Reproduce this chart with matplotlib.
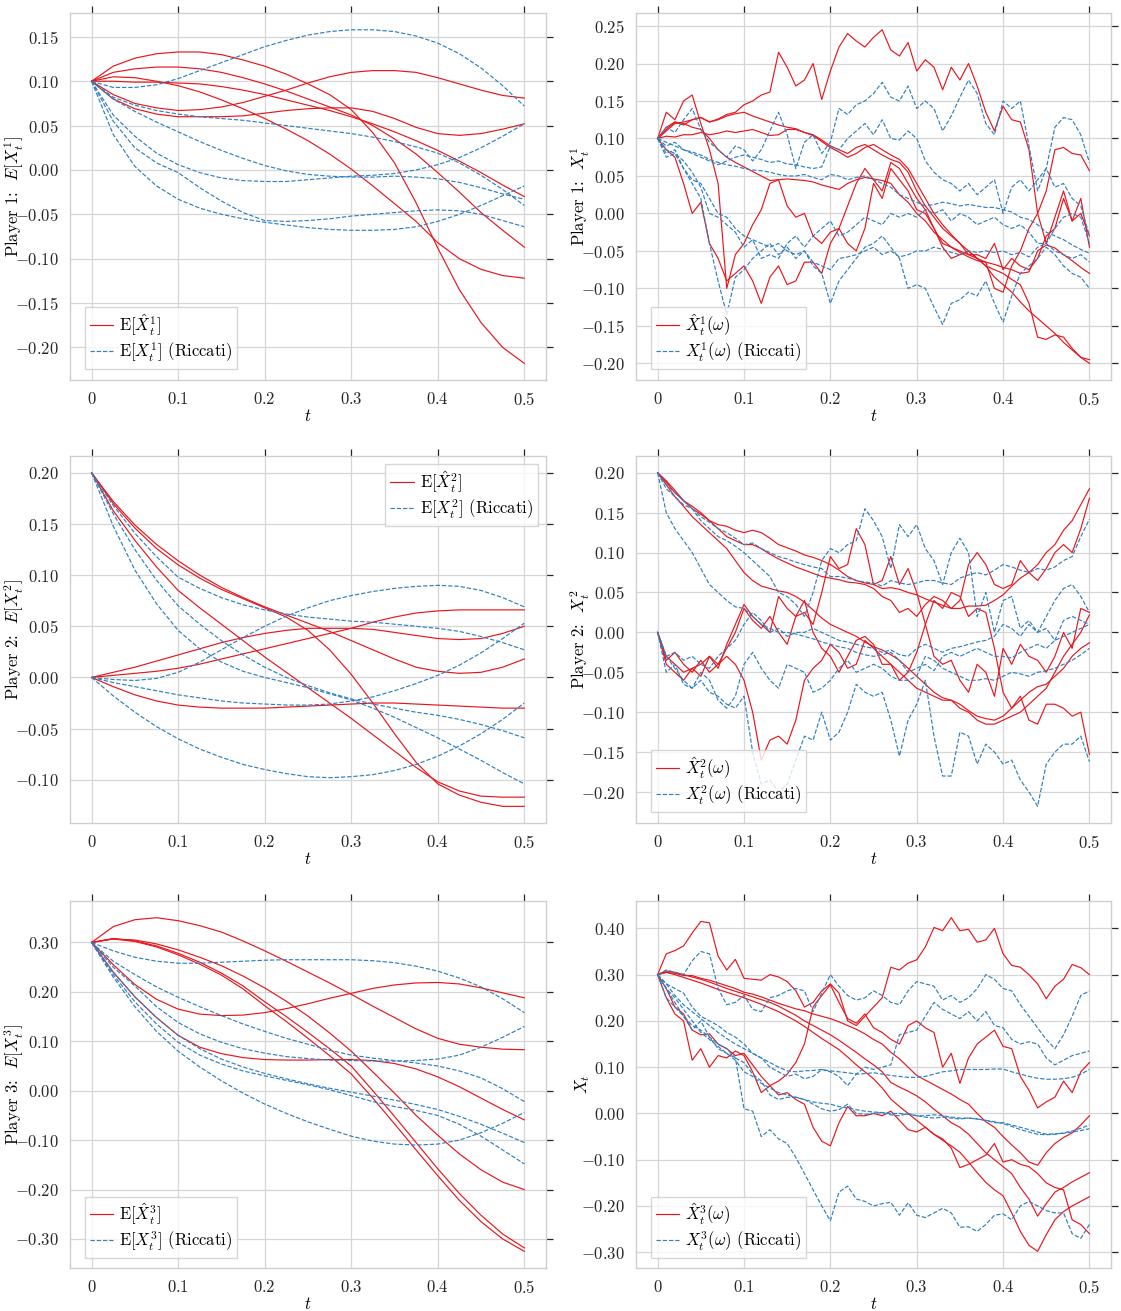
import numpy as np
import matplotlib
matplotlib.use("Agg")
import matplotlib.pyplot as plt
from matplotlib.ticker import MultipleLocator, FuncFormatter

# ---------------------------------------------------------------------------
# Time grids
# ---------------------------------------------------------------------------
t_mean = np.linspace(0.0, 0.5, 21)   # expectation curves
t_path = np.linspace(0.0, 0.5, 51)   # single sample paths

# ---------------------------------------------------------------------------
# Player 1: expectations
# ---------------------------------------------------------------------------
p1_mean_hat = [
    [0.100, 0.117, 0.126, 0.131, 0.133, 0.133, 0.130, 0.124, 0.117, 0.108, 0.097, 0.085, 0.068, 0.042, 0.008, -0.037, -0.088, -0.135, -0.172, -0.200, -0.218],
    [0.100, 0.110, 0.114, 0.116, 0.116, 0.114, 0.110, 0.104, 0.097, 0.089, 0.080, 0.071, 0.062, 0.050, 0.035, 0.018, -0.003, -0.025, -0.048, -0.068, -0.087],
    [0.100, 0.100, 0.099, 0.099, 0.098, 0.097, 0.094, 0.090, 0.085, 0.079, 0.073, 0.067, 0.060, 0.052, 0.043, 0.033, 0.022, 0.010, -0.003, -0.017, -0.030],
    [0.100, 0.105, 0.104, 0.100, 0.095, 0.088, 0.079, 0.069, 0.058, 0.046, 0.033, 0.018, 0.001, -0.018, -0.038, -0.058, -0.082, -0.100, -0.112, -0.119, -0.122],
    [0.100, 0.085, 0.075, 0.070, 0.067, 0.068, 0.071, 0.076, 0.083, 0.090, 0.098, 0.105, 0.110, 0.112, 0.112, 0.110, 0.104, 0.097, 0.090, 0.084, 0.081],
    [0.100, 0.080, 0.069, 0.063, 0.060, 0.060, 0.060, 0.061, 0.064, 0.067, 0.069, 0.070, 0.070, 0.066, 0.058, 0.048, 0.041, 0.039, 0.041, 0.046, 0.052],
]
p1_mean_ric = [
    [0.100, 0.093, 0.093, 0.096, 0.103, 0.112, 0.121, 0.130, 0.139, 0.146, 0.152, 0.156, 0.158, 0.158, 0.156, 0.151, 0.143, 0.131, 0.115, 0.095, 0.072],
    [0.100, 0.082, 0.073, 0.067, 0.063, 0.060, 0.058, 0.056, 0.053, 0.050, 0.047, 0.044, 0.041, 0.037, 0.032, 0.026, 0.019, 0.008, -0.006, -0.022, -0.040],
    [0.100, 0.080, 0.066, 0.054, 0.043, 0.032, 0.022, 0.013, 0.005, -0.001, -0.005, -0.007, -0.008, -0.008, -0.007, -0.008, -0.010, -0.014, -0.020, -0.027, -0.033],
    [0.100, 0.062, 0.038, 0.019, 0.006, -0.003, -0.009, -0.012, -0.013, -0.013, -0.011, -0.009, -0.007, -0.006, -0.004, 0.000, 0.006, 0.014, 0.025, 0.038, 0.052],
    [0.100, 0.055, 0.025, 0.008, -0.003, -0.020, -0.035, -0.048, -0.057, -0.058, -0.057, -0.055, -0.052, -0.050, -0.048, -0.046, -0.045, -0.046, -0.050, -0.057, -0.064],
    [0.100, 0.040, 0.004, -0.018, -0.033, -0.043, -0.050, -0.055, -0.059, -0.062, -0.065, -0.067, -0.068, -0.068, -0.067, -0.064, -0.058, -0.050, -0.040, -0.029, -0.018],
]

# ---------------------------------------------------------------------------
# Player 1: sample paths
# ---------------------------------------------------------------------------
p1_path_hat = [
    [0.100, 0.115, 0.122, 0.118, 0.125, 0.128, 0.122, 0.126, 0.132, 0.135, 0.145, 0.150, 0.158, 0.162, 0.215, 0.195, 0.170, 0.178, 0.200, 0.152, 0.190, 0.222, 0.240, 0.230, 0.222, 0.235, 0.245, 0.218, 0.210, 0.228, 0.190, 0.205, 0.195, 0.165, 0.195, 0.178, 0.200, 0.170, 0.135, 0.110, 0.143, 0.125, 0.122, 0.085, 0.000, -0.040, -0.005, 0.030, -0.010, 0.020, -0.045],
    [0.100, 0.135, 0.125, 0.150, 0.158, 0.120, 0.085, 0.040, -0.100, -0.055, -0.040, -0.015, 0.005, 0.040, 0.045, 0.010, -0.005, 0.000, -0.030, -0.040, -0.025, -0.020, 0.010, 0.040, 0.060, 0.045, 0.030, 0.068, 0.060, 0.040, 0.020, 0.005, -0.020, -0.045, -0.060, -0.055, -0.050, -0.060, -0.065, -0.100, -0.105, -0.070, -0.050, -0.020, 0.000, 0.030, 0.085, 0.088, 0.080, 0.078, 0.057],
    [0.100, 0.085, 0.075, 0.040, 0.000, 0.015, -0.040, -0.060, -0.090, -0.080, -0.070, -0.090, -0.120, -0.085, -0.070, -0.095, -0.090, -0.065, -0.065, -0.080, -0.040, -0.020, -0.040, -0.050, -0.020, 0.040, 0.020, 0.060, 0.045, 0.030, 0.005, 0.000, -0.020, -0.040, -0.045, -0.050, -0.055, -0.055, -0.060, -0.040, -0.075, -0.060, -0.070, -0.075, -0.060, -0.030, -0.020, 0.020, -0.010, 0.000, -0.030],
    [0.100, 0.110, 0.120, 0.122, 0.125, 0.128, 0.122, 0.125, 0.130, 0.133, 0.135, 0.130, 0.126, 0.122, 0.118, 0.115, 0.113, 0.108, 0.105, 0.098, 0.090, 0.085, 0.080, 0.088, 0.092, 0.085, 0.078, 0.072, 0.068, 0.055, 0.030, 0.010, -0.005, -0.020, -0.030, -0.040, -0.050, -0.060, -0.070, -0.085, -0.095, -0.105, -0.118, -0.130, -0.140, -0.150, -0.160, -0.172, -0.182, -0.192, -0.195],
    [0.100, 0.112, 0.122, 0.120, 0.115, 0.112, 0.100, 0.085, 0.075, 0.068, 0.062, 0.056, 0.050, 0.044, 0.045, 0.046, 0.045, 0.044, 0.042, 0.038, 0.035, 0.032, 0.040, 0.045, 0.048, 0.046, 0.044, 0.040, 0.025, 0.015, 0.000, -0.010, -0.025, -0.035, -0.045, -0.052, -0.058, -0.063, -0.065, -0.068, -0.072, -0.075, -0.080, -0.078, -0.050, -0.042, -0.046, -0.055, -0.063, -0.072, -0.080],
    [0.100, 0.103, 0.102, 0.105, 0.105, 0.108, 0.105, 0.107, 0.110, 0.108, 0.110, 0.112, 0.108, 0.104, 0.105, 0.112, 0.112, 0.108, 0.104, 0.096, 0.088, 0.082, 0.075, 0.080, 0.088, 0.092, 0.085, 0.078, 0.072, 0.060, 0.040, 0.020, 0.000, -0.015, -0.028, -0.040, -0.055, -0.060, -0.070, -0.075, -0.080, -0.088, -0.095, -0.120, -0.165, -0.168, -0.162, -0.165, -0.180, -0.192, -0.200],
]
p1_path_ric = [
    [0.100, 0.115, 0.108, 0.125, 0.140, 0.112, 0.095, 0.085, 0.075, 0.090, 0.085, 0.070, 0.085, 0.110, 0.135, 0.105, 0.060, 0.095, 0.105, 0.080, 0.095, 0.140, 0.132, 0.145, 0.150, 0.160, 0.175, 0.155, 0.150, 0.170, 0.140, 0.150, 0.140, 0.110, 0.130, 0.155, 0.178, 0.160, 0.120, 0.105, 0.150, 0.140, 0.150, 0.090, 0.030, 0.060, 0.115, 0.128, 0.125, 0.105, 0.068],
    [0.100, 0.090, 0.095, 0.085, 0.080, 0.075, 0.070, 0.065, 0.070, 0.075, 0.078, 0.075, 0.072, 0.068, 0.070, 0.066, 0.065, 0.062, 0.060, 0.062, 0.090, 0.085, 0.100, 0.110, 0.120, 0.105, 0.125, 0.100, 0.098, 0.110, 0.100, 0.070, 0.055, 0.045, 0.040, 0.030, 0.040, 0.025, 0.035, 0.045, 0.000, 0.035, 0.045, 0.030, 0.045, 0.060, 0.035, 0.040, 0.020, 0.010, -0.030],
    [0.100, 0.095, 0.090, 0.085, 0.082, 0.078, 0.072, 0.068, 0.065, 0.063, 0.060, 0.058, 0.057, 0.055, 0.052, 0.050, 0.050, 0.052, 0.048, 0.045, 0.052, 0.050, 0.045, 0.048, 0.050, 0.045, 0.040, 0.035, 0.025, 0.020, 0.015, 0.010, 0.012, 0.015, 0.013, 0.010, 0.012, 0.010, 0.008, 0.008, 0.005, 0.002, -0.005, -0.008, -0.015, -0.025, -0.030, -0.035, -0.042, -0.048, -0.053],
    [0.100, 0.085, 0.080, 0.060, 0.040, 0.020, -0.040, -0.090, -0.135, -0.085, -0.075, -0.060, -0.050, -0.040, -0.055, -0.045, -0.060, -0.050, -0.070, -0.080, -0.120, -0.090, -0.075, -0.060, -0.045, -0.040, -0.030, -0.045, -0.060, -0.100, -0.095, -0.100, -0.125, -0.148, -0.120, -0.115, -0.105, -0.110, -0.090, -0.120, -0.145, -0.110, -0.080, -0.070, -0.060, -0.045, -0.055, -0.070, -0.080, -0.085, -0.100],
    [0.100, 0.080, 0.085, 0.060, 0.045, 0.040, 0.020, 0.000, -0.005, -0.020, -0.030, -0.035, -0.040, -0.045, -0.040, -0.050, -0.055, -0.050, -0.065, -0.070, -0.075, -0.060, -0.058, -0.055, -0.050, -0.045, -0.055, -0.050, -0.058, -0.055, -0.050, -0.050, -0.045, -0.048, -0.052, -0.055, -0.050, -0.052, -0.050, -0.052, -0.050, -0.055, -0.052, -0.058, -0.045, -0.040, -0.050, -0.055, -0.060, -0.055, -0.065],
    [0.100, 0.075, 0.080, 0.070, 0.055, 0.035, 0.000, -0.005, -0.015, -0.025, -0.045, -0.035, -0.060, -0.055, -0.060, -0.040, -0.030, -0.045, -0.030, -0.020, -0.010, -0.030, -0.025, -0.015, -0.005, -0.010, -0.015, 0.000, -0.005, 0.000, -0.005, 0.005, 0.000, 0.005, -0.010, 0.000, -0.005, -0.015, -0.010, -0.005, -0.015, -0.020, -0.015, -0.025, -0.040, -0.040, -0.020, -0.005, 0.000, -0.005, -0.040],
]

# ---------------------------------------------------------------------------
# Player 2: expectations
# ---------------------------------------------------------------------------
p2_mean_hat = [
    [0.200, 0.172, 0.149, 0.130, 0.114, 0.100, 0.088, 0.078, 0.069, 0.061, 0.053, 0.045, 0.036, 0.027, 0.018, 0.010, 0.006, 0.004, 0.005, 0.010, 0.018],
    [0.200, 0.170, 0.146, 0.126, 0.110, 0.097, 0.086, 0.077, 0.068, 0.059, 0.046, 0.027, 0.003, -0.025, -0.055, -0.083, -0.104, -0.115, -0.122, -0.126, -0.126],
    [0.200, 0.163, 0.134, 0.108, 0.085, 0.068, 0.052, 0.036, 0.020, 0.005, -0.010, -0.025, -0.040, -0.056, -0.072, -0.088, -0.102, -0.111, -0.116, -0.117, -0.117],
    [0.000, 0.005, 0.010, 0.016, 0.022, 0.028, 0.034, 0.039, 0.043, 0.046, 0.048, 0.048, 0.048, 0.047, 0.044, 0.041, 0.038, 0.037, 0.038, 0.043, 0.050],
    [0.000, 0.002, 0.004, 0.006, 0.009, 0.013, 0.018, 0.023, 0.028, 0.033, 0.038, 0.043, 0.048, 0.054, 0.059, 0.063, 0.065, 0.066, 0.066, 0.066, 0.066],
    [0.000, -0.009, -0.017, -0.023, -0.027, -0.029, -0.030, -0.030, -0.030, -0.029, -0.028, -0.027, -0.026, -0.025, -0.025, -0.026, -0.027, -0.028, -0.029, -0.030, -0.030],
]
p2_mean_ric = [
    [0.200, 0.168, 0.141, 0.118, 0.098, 0.087, 0.078, 0.071, 0.066, 0.062, 0.059, 0.057, 0.055, 0.054, 0.052, 0.050, 0.048, 0.045, 0.040, 0.034, 0.027],
    [0.200, 0.160, 0.125, 0.095, 0.070, 0.052, 0.036, 0.022, 0.010, 0.000, -0.008, -0.015, -0.021, -0.026, -0.030, -0.034, -0.037, -0.041, -0.046, -0.052, -0.059],
    [0.200, 0.148, 0.105, 0.072, 0.046, 0.028, 0.015, 0.006, 0.000, -0.005, -0.010, -0.016, -0.022, -0.030, -0.039, -0.049, -0.059, -0.070, -0.081, -0.093, -0.104],
    [0.000, -0.002, -0.003, -0.001, 0.005, 0.015, 0.027, 0.039, 0.050, 0.060, 0.068, 0.075, 0.080, 0.084, 0.087, 0.089, 0.090, 0.089, 0.085, 0.078, 0.069],
    [0.000, -0.005, -0.009, -0.013, -0.017, -0.020, -0.023, -0.025, -0.026, -0.027, -0.027, -0.026, -0.023, -0.019, -0.013, -0.006, 0.002, 0.012, 0.024, 0.038, 0.053],
    [0.000, -0.018, -0.034, -0.048, -0.060, -0.070, -0.078, -0.085, -0.090, -0.094, -0.097, -0.098, -0.097, -0.095, -0.091, -0.085, -0.077, -0.067, -0.055, -0.041, -0.025],
]

# ---------------------------------------------------------------------------
# Player 2: sample paths
# ---------------------------------------------------------------------------
p2_path_hat = [
    [0.200, 0.188, 0.175, 0.165, 0.155, 0.148, 0.140, 0.135, 0.133, 0.128, 0.125, 0.128, 0.125, 0.118, 0.110, 0.106, 0.102, 0.097, 0.094, 0.090, 0.085, 0.078, 0.070, 0.065, 0.062, 0.060, 0.055, 0.056, 0.054, 0.050, 0.047, 0.042, 0.038, 0.034, 0.030, 0.030, 0.033, 0.033, 0.034, 0.040, 0.047, 0.058, 0.068, 0.075, 0.085, 0.100, 0.110, 0.128, 0.140, 0.160, 0.180],
    [0.200, 0.190, 0.178, 0.165, 0.158, 0.150, 0.140, 0.130, 0.120, 0.115, 0.110, 0.110, 0.105, 0.098, 0.092, 0.087, 0.082, 0.078, 0.074, 0.070, 0.068, 0.066, 0.063, 0.062, 0.060, 0.055, 0.045, 0.040, 0.025, 0.030, 0.020, 0.035, 0.045, 0.040, 0.030, 0.040, 0.085, 0.100, 0.085, 0.060, 0.055, 0.060, 0.090, 0.075, 0.065, 0.080, 0.100, 0.110, 0.100, 0.130, 0.168],
    [0.200, 0.185, 0.170, 0.158, 0.145, 0.135, 0.125, 0.115, 0.105, 0.090, 0.075, 0.065, 0.058, 0.055, 0.052, 0.050, 0.045, 0.038, 0.028, 0.018, 0.010, 0.005, 0.000, -0.005, -0.012, -0.018, -0.022, -0.028, -0.035, -0.045, -0.055, -0.065, -0.075, -0.082, -0.085, -0.090, -0.098, -0.105, -0.108, -0.110, -0.105, -0.095, -0.085, -0.075, -0.068, -0.065, -0.055, -0.045, -0.030, -0.020, -0.013],
    [0.000, -0.030, -0.040, -0.050, -0.045, -0.040, -0.030, -0.040, -0.030, -0.040, -0.060, -0.100, -0.160, -0.135, -0.130, -0.140, -0.110, -0.060, -0.045, -0.035, -0.015, -0.025, -0.045, -0.040, -0.010, -0.020, -0.030, -0.040, -0.050, -0.060, -0.070, -0.075, -0.080, -0.085, -0.085, -0.095, -0.100, -0.110, -0.115, -0.115, -0.110, -0.105, -0.100, -0.090, -0.080, -0.070, -0.050, -0.030, -0.015, 0.000, 0.022],
    [0.000, -0.040, -0.050, -0.060, -0.045, -0.055, -0.030, -0.045, -0.015, 0.010, 0.035, 0.020, 0.010, 0.000, 0.045, 0.030, 0.020, 0.025, 0.010, 0.050, 0.095, 0.080, 0.085, 0.130, 0.110, 0.060, 0.065, 0.095, 0.060, 0.080, 0.050, 0.010, -0.030, -0.040, -0.035, -0.060, -0.075, -0.040, -0.050, -0.080, -0.020, -0.040, -0.015, -0.030, -0.035, -0.050, -0.030, 0.000, -0.020, 0.030, 0.025],
    [0.000, -0.035, -0.025, -0.040, -0.050, -0.035, -0.050, -0.040, -0.020, 0.000, 0.030, 0.015, 0.005, 0.020, 0.000, -0.015, 0.020, 0.040, 0.000, -0.020, -0.030, -0.050, -0.030, -0.010, -0.005, -0.015, -0.040, -0.040, -0.060, -0.050, -0.025, 0.010, 0.040, 0.030, 0.050, 0.045, 0.020, 0.030, 0.025, -0.020, -0.075, -0.095, -0.080, -0.110, -0.115, -0.090, -0.090, -0.095, -0.105, -0.100, -0.153],
]
p2_path_ric = [
    [0.200, 0.185, 0.175, 0.165, 0.155, 0.145, 0.138, 0.130, 0.125, 0.118, 0.110, 0.112, 0.105, 0.100, 0.095, 0.092, 0.088, 0.085, 0.082, 0.080, 0.070, 0.070, 0.068, 0.065, 0.063, 0.062, 0.058, 0.065, 0.062, 0.060, 0.062, 0.065, 0.065, 0.062, 0.060, 0.068, 0.072, 0.075, 0.072, 0.078, 0.085, 0.082, 0.078, 0.075, 0.080, 0.078, 0.082, 0.090, 0.095, 0.120, 0.142],
    [0.200, 0.150, 0.130, 0.115, 0.100, 0.080, 0.060, 0.050, 0.040, 0.032, 0.030, 0.020, 0.010, 0.005, 0.000, 0.000, -0.002, -0.005, -0.008, -0.012, -0.015, -0.018, -0.020, -0.025, -0.028, -0.030, -0.028, -0.025, -0.035, -0.050, -0.045, -0.040, -0.048, -0.030, -0.025, -0.030, -0.025, -0.020, -0.025, -0.030, -0.030, -0.032, -0.025, -0.020, -0.015, -0.020, -0.010, -0.005, 0.000, 0.005, 0.010],
    [0.200, 0.180, 0.170, 0.160, 0.155, 0.140, 0.130, 0.120, 0.115, 0.108, 0.100, 0.090, 0.080, 0.070, 0.050, 0.045, 0.035, 0.020, 0.050, 0.090, 0.105, 0.100, 0.110, 0.115, 0.155, 0.140, 0.120, 0.080, 0.135, 0.120, 0.135, 0.105, 0.090, 0.060, 0.100, 0.118, 0.100, 0.020, 0.050, 0.000, 0.040, 0.045, 0.005, 0.015, 0.000, 0.020, 0.040, 0.055, 0.060, 0.045, 0.025],
    [0.000, -0.030, -0.045, -0.060, -0.070, -0.060, -0.075, -0.080, -0.090, -0.095, -0.080, -0.150, -0.190, -0.185, -0.200, -0.190, -0.160, -0.130, -0.135, -0.100, -0.135, -0.125, -0.100, -0.065, -0.075, -0.080, -0.075, -0.110, -0.155, -0.110, -0.090, -0.060, -0.130, -0.180, -0.180, -0.125, -0.130, -0.165, -0.140, -0.150, -0.165, -0.160, -0.185, -0.200, -0.218, -0.165, -0.150, -0.140, -0.140, -0.130, -0.162],
    [0.000, -0.050, -0.040, -0.065, -0.070, -0.050, -0.060, -0.085, -0.095, -0.080, -0.040, -0.025, -0.045, -0.060, -0.070, -0.040, -0.045, -0.050, -0.075, -0.070, -0.060, -0.045, -0.035, -0.050, -0.045, -0.040, -0.045, -0.055, -0.060, -0.060, -0.055, -0.030, -0.035, -0.045, -0.050, -0.055, -0.060, -0.060, -0.058, -0.060, -0.055, -0.050, -0.052, -0.055, -0.050, -0.048, -0.045, -0.040, -0.035, -0.028, -0.020],
    [0.000, -0.030, -0.025, -0.035, -0.030, -0.040, -0.045, -0.030, -0.020, -0.010, 0.010, 0.025, 0.015, 0.000, 0.005, -0.005, 0.000, 0.000, 0.005, 0.000, -0.005, -0.010, -0.012, -0.015, -0.018, -0.020, -0.025, -0.022, -0.028, -0.030, -0.020, -0.015, -0.020, -0.025, -0.020, -0.018, -0.015, -0.012, -0.010, -0.005, 0.010, 0.005, -0.005, 0.010, 0.000, 0.005, -0.010, 0.015, 0.020, 0.015, 0.010],
]

# ---------------------------------------------------------------------------
# Player 3: expectations
# ---------------------------------------------------------------------------
p3_mean_hat = [
    [0.300, 0.332, 0.346, 0.350, 0.344, 0.334, 0.321, 0.303, 0.283, 0.262, 0.240, 0.218, 0.195, 0.171, 0.148, 0.125, 0.106, 0.094, 0.088, 0.084, 0.083],
    [0.300, 0.255, 0.215, 0.185, 0.165, 0.155, 0.152, 0.153, 0.158, 0.166, 0.176, 0.187, 0.197, 0.207, 0.214, 0.218, 0.219, 0.216, 0.208, 0.198, 0.188],
    [0.300, 0.240, 0.190, 0.148, 0.112, 0.088, 0.075, 0.067, 0.063, 0.062, 0.062, 0.063, 0.063, 0.061, 0.055, 0.044, 0.028, 0.008, -0.015, -0.038, -0.059],
    [0.300, 0.307, 0.305, 0.297, 0.285, 0.270, 0.253, 0.232, 0.208, 0.181, 0.151, 0.117, 0.080, 0.038, -0.005, -0.050, -0.090, -0.128, -0.160, -0.185, -0.200],
    [0.300, 0.308, 0.303, 0.293, 0.278, 0.260, 0.238, 0.212, 0.180, 0.150, 0.118, 0.085, 0.050, 0.000, -0.052, -0.105, -0.158, -0.208, -0.252, -0.290, -0.318],
    [0.300, 0.307, 0.302, 0.291, 0.275, 0.256, 0.234, 0.206, 0.172, 0.140, 0.106, 0.071, 0.034, -0.015, -0.067, -0.120, -0.172, -0.222, -0.265, -0.300, -0.325],
]
p3_mean_ric = [
    [0.300, 0.283, 0.270, 0.262, 0.258, 0.258, 0.260, 0.262, 0.264, 0.265, 0.265, 0.265, 0.265, 0.263, 0.259, 0.252, 0.242, 0.228, 0.210, 0.186, 0.158],
    [0.300, 0.262, 0.235, 0.210, 0.189, 0.170, 0.152, 0.135, 0.120, 0.106, 0.094, 0.082, 0.072, 0.066, 0.061, 0.056, 0.050, 0.040, 0.026, 0.004, -0.022],
    [0.300, 0.250, 0.212, 0.170, 0.138, 0.115, 0.098, 0.085, 0.076, 0.069, 0.065, 0.062, 0.061, 0.060, 0.060, 0.061, 0.064, 0.072, 0.088, 0.108, 0.130],
    [0.300, 0.240, 0.190, 0.148, 0.112, 0.085, 0.064, 0.048, 0.035, 0.024, 0.014, 0.005, -0.003, -0.011, -0.019, -0.028, -0.038, -0.052, -0.068, -0.086, -0.105],
    [0.300, 0.235, 0.180, 0.135, 0.098, 0.072, 0.054, 0.040, 0.030, 0.021, 0.012, 0.002, -0.010, -0.022, -0.032, -0.040, -0.050, -0.068, -0.092, -0.120, -0.148],
    [0.300, 0.230, 0.170, 0.120, 0.080, 0.048, 0.020, -0.005, -0.027, -0.046, -0.063, -0.078, -0.092, -0.102, -0.108, -0.110, -0.108, -0.100, -0.085, -0.066, -0.044],
]

# ---------------------------------------------------------------------------
# Player 3: sample paths
# ---------------------------------------------------------------------------
p3_path_hat = [
    [0.300, 0.345, 0.352, 0.362, 0.390, 0.415, 0.412, 0.340, 0.310, 0.333, 0.292, 0.290, 0.288, 0.300, 0.295, 0.285, 0.265, 0.230, 0.240, 0.265, 0.280, 0.260, 0.200, 0.190, 0.210, 0.230, 0.250, 0.316, 0.310, 0.325, 0.332, 0.360, 0.402, 0.395, 0.423, 0.395, 0.398, 0.370, 0.375, 0.400, 0.345, 0.320, 0.316, 0.300, 0.280, 0.248, 0.275, 0.290, 0.322, 0.315, 0.300],
    [0.300, 0.250, 0.215, 0.200, 0.115, 0.140, 0.100, 0.125, 0.120, 0.135, 0.125, 0.090, 0.045, 0.060, 0.070, 0.085, 0.110, 0.150, 0.230, 0.255, 0.278, 0.240, 0.205, 0.195, 0.215, 0.185, 0.175, 0.160, 0.150, 0.190, 0.200, 0.185, 0.175, 0.100, 0.130, 0.065, 0.120, 0.150, 0.165, 0.180, 0.145, 0.140, 0.080, 0.050, 0.012, 0.025, 0.035, 0.070, 0.045, 0.090, 0.110],
    [0.300, 0.305, 0.303, 0.298, 0.298, 0.292, 0.288, 0.282, 0.276, 0.270, 0.262, 0.258, 0.252, 0.245, 0.238, 0.232, 0.226, 0.222, 0.215, 0.210, 0.205, 0.198, 0.190, 0.182, 0.172, 0.160, 0.150, 0.132, 0.118, 0.100, 0.082, 0.072, 0.062, 0.052, 0.042, 0.030, 0.020, 0.000, -0.018, -0.030, -0.050, -0.068, -0.085, -0.105, -0.112, -0.085, -0.065, -0.052, -0.042, -0.025, -0.005],
    [0.300, 0.308, 0.305, 0.300, 0.295, 0.290, 0.284, 0.277, 0.270, 0.264, 0.258, 0.252, 0.246, 0.240, 0.232, 0.222, 0.212, 0.200, 0.190, 0.180, 0.170, 0.158, 0.145, 0.132, 0.118, 0.105, 0.090, 0.067, 0.057, 0.048, 0.038, 0.025, 0.009, -0.005, -0.020, -0.030, -0.045, -0.065, -0.085, -0.100, -0.115, -0.130, -0.160, -0.185, -0.222, -0.195, -0.170, -0.160, -0.148, -0.138, -0.128],
    [0.300, 0.305, 0.300, 0.294, 0.288, 0.282, 0.275, 0.268, 0.262, 0.256, 0.250, 0.243, 0.236, 0.228, 0.220, 0.210, 0.200, 0.188, 0.175, 0.162, 0.150, 0.138, 0.122, 0.105, 0.090, 0.075, 0.055, 0.031, 0.015, 0.000, -0.015, -0.030, -0.045, -0.058, -0.070, -0.084, -0.105, -0.128, -0.149, -0.165, -0.178, -0.215, -0.255, -0.285, -0.298, -0.262, -0.230, -0.212, -0.200, -0.190, -0.180],
    [0.300, 0.270, 0.230, 0.215, 0.180, 0.170, 0.172, 0.150, 0.140, 0.125, 0.130, 0.105, 0.080, 0.060, 0.040, 0.045, 0.030, 0.020, -0.030, -0.060, -0.070, -0.020, 0.015, -0.005, -0.005, 0.000, -0.005, 0.005, -0.015, -0.035, -0.040, -0.030, -0.045, -0.055, -0.075, -0.117, -0.110, -0.100, -0.090, -0.065, -0.105, -0.100, -0.110, -0.115, -0.130, -0.150, -0.160, -0.165, -0.230, -0.240, -0.260],
]
p3_path_ric = [
    [0.300, 0.310, 0.305, 0.300, 0.330, 0.350, 0.345, 0.270, 0.235, 0.240, 0.255, 0.225, 0.220, 0.250, 0.255, 0.265, 0.270, 0.265, 0.220, 0.260, 0.300, 0.275, 0.255, 0.245, 0.250, 0.265, 0.255, 0.240, 0.235, 0.265, 0.285, 0.280, 0.275, 0.245, 0.255, 0.240, 0.250, 0.270, 0.300, 0.290, 0.270, 0.265, 0.235, 0.210, 0.185, 0.160, 0.140, 0.170, 0.210, 0.255, 0.265],
    [0.300, 0.280, 0.270, 0.260, 0.230, 0.210, 0.200, 0.190, 0.175, 0.165, 0.150, 0.130, 0.120, 0.100, 0.090, 0.080, 0.085, 0.075, 0.080, 0.095, 0.090, 0.080, 0.060, 0.085, 0.100, 0.095, 0.100, 0.105, 0.170, 0.175, 0.180, 0.210, 0.240, 0.225, 0.215, 0.205, 0.220, 0.200, 0.220, 0.190, 0.185, 0.160, 0.150, 0.155, 0.150, 0.120, 0.105, 0.115, 0.125, 0.130, 0.135],
    [0.300, 0.280, 0.255, 0.235, 0.220, 0.205, 0.190, 0.175, 0.162, 0.150, 0.140, 0.130, 0.120, 0.110, 0.100, 0.092, 0.090, 0.092, 0.093, 0.095, 0.092, 0.090, 0.088, 0.085, 0.086, 0.088, 0.085, 0.082, 0.080, 0.078, 0.078, 0.080, 0.085, 0.090, 0.092, 0.095, 0.095, 0.095, 0.095, 0.096, 0.096, 0.090, 0.085, 0.080, 0.076, 0.074, 0.074, 0.075, 0.078, 0.085, 0.095],
    [0.300, 0.270, 0.250, 0.225, 0.200, 0.175, 0.160, 0.145, 0.130, 0.115, 0.090, 0.080, 0.065, 0.055, 0.045, 0.040, 0.035, 0.030, 0.025, 0.022, 0.020, 0.015, 0.012, 0.008, 0.005, 0.003, 0.002, 0.000, 0.000, -0.002, -0.005, -0.008, -0.010, -0.008, -0.010, -0.012, -0.010, -0.012, -0.015, -0.018, -0.022, -0.028, -0.035, -0.040, -0.045, -0.046, -0.045, -0.042, -0.038, -0.032, -0.025],
    [0.300, 0.250, 0.230, 0.210, 0.180, 0.200, 0.165, 0.140, 0.130, 0.120, 0.110, 0.085, 0.070, 0.040, 0.030, 0.035, 0.035, 0.030, 0.020, 0.010, 0.005, 0.008, 0.020, 0.000, -0.002, 0.000, 0.002, -0.003, -0.005, 0.000, -0.005, -0.005, -0.003, -0.005, -0.008, -0.010, -0.010, -0.012, -0.015, -0.020, -0.020, -0.025, -0.030, -0.035, -0.040, -0.045, -0.044, -0.043, -0.040, -0.037, -0.033],
    [0.300, 0.270, 0.240, 0.210, 0.190, 0.180, 0.165, 0.150, 0.140, 0.120, 0.010, 0.005, -0.050, -0.035, -0.055, -0.065, -0.095, -0.130, -0.165, -0.200, -0.232, -0.170, -0.157, -0.185, -0.190, -0.200, -0.195, -0.192, -0.220, -0.193, -0.220, -0.225, -0.215, -0.205, -0.215, -0.246, -0.245, -0.255, -0.240, -0.220, -0.217, -0.230, -0.200, -0.190, -0.200, -0.210, -0.215, -0.215, -0.260, -0.270, -0.240],
]

# ---------------------------------------------------------------------------
# Style
# ---------------------------------------------------------------------------
RED = "#e8161c"
BLUE = "#2f7fc1"

plt.rcParams.update({
    "font.family": "serif",
    "font.serif": ["cmr10"],
    "mathtext.fontset": "cm",
    "axes.unicode_minus": False,
    "axes.formatter.use_mathtext": True,
    "font.size": 12,
    "axes.edgecolor": "#cfcfcf",
    "axes.linewidth": 1.0,
    "axes.grid": True,
    "grid.color": "#d6d6d6",
    "grid.linewidth": 0.9,
    "xtick.top": True, "xtick.bottom": False,
    "ytick.right": True, "ytick.left": False,
    "xtick.direction": "out", "ytick.direction": "out",
    "xtick.major.size": 5, "ytick.major.size": 5,
    "xtick.major.width": 0.9, "ytick.major.width": 0.9,
    "xtick.major.pad": 3.0, "ytick.major.pad": 3.0,
    "xtick.color": "#262626", "ytick.color": "#262626",
    "legend.fancybox": False,
    "legend.edgecolor": "#cccccc",
    "legend.framealpha": 0.8,
    "legend.fontsize": 12,
    "legend.handlelength": 1.4,
    "legend.handletextpad": 0.35,
    "legend.borderpad": 0.3,
    "legend.labelspacing": 0.15,
})


def fmt_t(v, _):
    return "$0$" if abs(v) < 1e-9 else f"${v:.1f}$"


def fmt_y(v, _):
    if abs(v) < 1e-9:
        v = 0.0
    return f"${v:.2f}$"


panels = [
    # row, col, t, hat, ric, hat label, ric label, y label, y step, legend loc, anchor
    (0, 0, t_mean, p1_mean_hat, p1_mean_ric, r"E$[\hat{X}^1_t]$", r"E$[X^1_t]$ (Riccati)",
     r"Player 1:  $E[X^1_t]$", 0.05, "lower left", (0.031, 0.03)),
    (0, 1, t_path, p1_path_hat, p1_path_ric, r"$\hat{X}^1_t(\omega)$", r"$X^1_t(\omega)$ (Riccati)",
     r"Player 1:  $X^1_t$", 0.05, "lower left", (0.031, 0.03)),
    (1, 0, t_mean, p2_mean_hat, p2_mean_ric, r"E$[\hat{X}^2_t]$", r"E$[X^2_t]$ (Riccati)",
     r"Player 2:  $E[X^2_t]$", 0.05, "upper right", (0.983, 0.978)),
    (1, 1, t_path, p2_path_hat, p2_path_ric, r"$\hat{X}^2_t(\omega)$", r"$X^2_t(\omega)$ (Riccati)",
     r"Player 2:  $X^2_t$", 0.05, "lower left", (0.031, 0.03)),
    (2, 0, t_mean, p3_mean_hat, p3_mean_ric, r"E$[\hat{X}^3_t]$", r"E$[X^3_t]$ (Riccati)",
     r"Player 3:  $E[X^3_t]$", 0.10, "lower left", (0.031, 0.027)),
    (2, 1, t_path, p3_path_hat, p3_path_ric, r"$\hat{X}^3_t(\omega)$", r"$X^3_t(\omega)$ (Riccati)",
     r"$X_t$", 0.10, "lower left", (0.031, 0.027)),
]

col_x = [0.0624, 0.5674]
col_w = [0.4246, 0.4237]
row_y = [0.7101, 0.3722, 0.0328]
row_h = 0.2799

fig = plt.figure(figsize=(11.21, 13.11), dpi=100)

for row, col, t, hat, ric, lab_hat, lab_ric, ylab, ystep, loc, anchor in panels:
    ax = fig.add_axes([col_x[col], row_y[row], col_w[col], row_h])
    for k, y in enumerate(hat):
        ax.plot(t, y, color=RED, lw=0.85, label=lab_hat if k == 0 else None)
    for k, y in enumerate(ric):
        ax.plot(t, y, color=BLUE, lw=0.85, ls="--", label=lab_ric if k == 0 else None)
    ax.xaxis.set_major_locator(MultipleLocator(0.1))
    ax.xaxis.set_major_formatter(FuncFormatter(fmt_t))
    ax.yaxis.set_major_locator(MultipleLocator(ystep))
    ax.yaxis.set_major_formatter(FuncFormatter(fmt_y))
    ax.set_xlabel(r"$t$", labelpad=0)
    ax.set_ylabel(ylab)
    ax.yaxis.set_label_coords(-0.092, 0.5)
    ax.set_axisbelow(True)
    ax.legend(loc=loc, bbox_to_anchor=anchor, borderaxespad=0.0)

fig.savefig("out.png", dpi=100)
